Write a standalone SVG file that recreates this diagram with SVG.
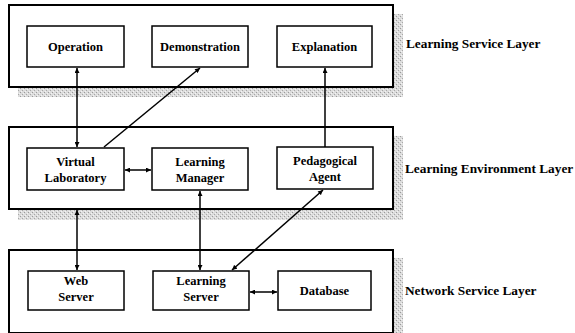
<svg xmlns="http://www.w3.org/2000/svg" width="575" height="333" viewBox="0 0 575 333">
<defs>
<pattern id="dither" width="4" height="4" patternUnits="userSpaceOnUse">
<rect width="4" height="4" fill="#dcdcdc"/>
<rect x="0" y="0" width="1" height="1" fill="#9a9a9a"/>
<rect x="2" y="2" width="1" height="1" fill="#a8a8a8"/>
<rect x="1" y="3" width="1" height="1" fill="#f4f4f4"/>
<rect x="3" y="1" width="1" height="1" fill="#f4f4f4"/>
</pattern>
<marker id="ah" viewBox="0 0 10 10" refX="10" refY="5" markerWidth="6" markerHeight="5" orient="auto-start-reverse" markerUnits="userSpaceOnUse">
<path d="M0,0 L10,5 L0,10 z" fill="#000"/>
</marker>
<style>
.shadow{fill:url(#dither);stroke:none}
.layer{fill:#fff;stroke:#000;stroke-width:2}
.node{fill:#fff;stroke:#000;stroke-width:1.5}
.t{font-weight:bold;font-size:12.5px;fill:#000;text-anchor:middle}
.lbl{font-weight:bold;font-size:13.3px;fill:#000}
.c{stroke:#000;stroke-width:1.5;fill:none}
</style>
</defs>

<g id="layer-service">
<rect class="shadow" x="18" y="14" width="385" height="83"/>
<rect class="layer" x="9" y="5" width="384" height="82"/>
<text class="lbl" font-family="'Liberation Serif', 'DejaVu Serif', serif" x="406" y="48">Learning Service Layer</text>
</g>
<g id="layer-environment">
<rect class="shadow" x="18" y="136" width="385" height="84"/>
<rect class="layer" x="9" y="127" width="384" height="82"/>
<text class="lbl" font-family="'Liberation Serif', 'DejaVu Serif', serif" x="405" y="173">Learning Environment Layer</text>
</g>
<g id="layer-network">
<rect class="shadow" x="18" y="258" width="385" height="80"/>
<rect class="layer" x="9" y="250" width="384" height="83"/>
<text class="lbl" font-family="'Liberation Serif', 'DejaVu Serif', serif" x="405" y="295">Network Service Layer</text>
</g>

<g id="operation">
<rect class="node" x="27" y="26" width="97" height="41"/>
<text class="t" font-family="'Liberation Serif', 'DejaVu Serif', serif" x="75.5" y="51">Operation</text>
</g>
<g id="demonstration">
<rect class="node" x="152" y="26" width="96" height="41"/>
<text class="t" font-family="'Liberation Serif', 'DejaVu Serif', serif" x="200" y="51">Demonstration</text>
</g>
<g id="explanation">
<rect class="node" x="277" y="26" width="95" height="41"/>
<text class="t" font-family="'Liberation Serif', 'DejaVu Serif', serif" x="324.5" y="51">Explanation</text>
</g>

<g id="virtual-laboratory">
<rect class="node" x="27" y="148" width="97" height="42"/>
<text class="t" font-family="'Liberation Serif', 'DejaVu Serif', serif" x="75.5" y="166">Virtual</text>
<text class="t" font-family="'Liberation Serif', 'DejaVu Serif', serif" x="75.5" y="182">Laboratory</text>
</g>
<g id="learning-manager">
<rect class="node" x="152" y="148" width="96" height="42"/>
<text class="t" font-family="'Liberation Serif', 'DejaVu Serif', serif" x="200" y="166">Learning</text>
<text class="t" font-family="'Liberation Serif', 'DejaVu Serif', serif" x="200" y="182">Manager</text>
</g>
<g id="pedagogical-agent">
<rect class="node" x="277" y="147" width="96" height="42"/>
<text class="t" font-family="'Liberation Serif', 'DejaVu Serif', serif" x="325" y="165">Pedagogical</text>
<text class="t" font-family="'Liberation Serif', 'DejaVu Serif', serif" x="325" y="181">Agent</text>
</g>

<g id="web-server">
<rect class="node" x="28" y="271" width="96" height="39"/>
<text class="t" font-family="'Liberation Serif', 'DejaVu Serif', serif" x="76" y="285">Web</text>
<text class="t" font-family="'Liberation Serif', 'DejaVu Serif', serif" x="76" y="301">Server</text>
</g>
<g id="learning-server">
<rect class="node" x="153" y="271" width="96" height="39"/>
<text class="t" font-family="'Liberation Serif', 'DejaVu Serif', serif" x="201" y="285">Learning</text>
<text class="t" font-family="'Liberation Serif', 'DejaVu Serif', serif" x="201" y="301">Server</text>
</g>
<g id="database">
<rect class="node" x="278" y="271" width="93" height="39"/>
<text class="t" font-family="'Liberation Serif', 'DejaVu Serif', serif" x="324.5" y="295">Database</text>
</g>

<g id="connectors">
<line class="c" x1="77" y1="68" x2="77" y2="147" marker-start="url(#ah)" marker-end="url(#ah)"/>
<line class="c" x1="104" y1="147" x2="200" y2="68" marker-end="url(#ah)"/>
<line class="c" x1="325" y1="147" x2="325" y2="68" marker-end="url(#ah)"/>
<line class="c" x1="125" y1="170" x2="151" y2="170" marker-start="url(#ah)" marker-end="url(#ah)"/>
<line class="c" x1="77" y1="210" x2="77" y2="270" marker-start="url(#ah)" marker-end="url(#ah)"/>
<line class="c" x1="200" y1="191" x2="200" y2="270" marker-start="url(#ah)" marker-end="url(#ah)"/>
<line class="c" x1="323" y1="190" x2="232" y2="270" marker-start="url(#ah)" marker-end="url(#ah)"/>
<line class="c" x1="250" y1="292" x2="277" y2="292" marker-start="url(#ah)" marker-end="url(#ah)"/>
</g>
</svg>
